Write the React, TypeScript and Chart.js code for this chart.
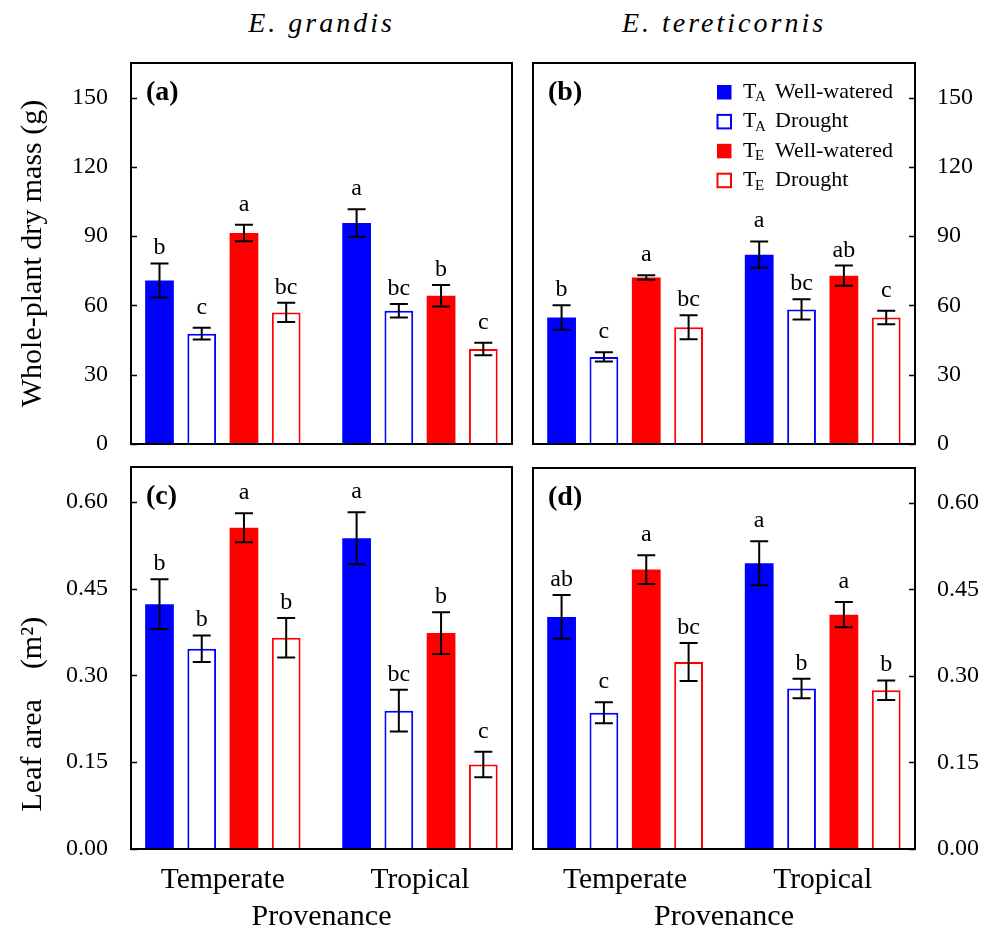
import React, { useEffect, useRef } from 'react';
import { Chart, registerables } from 'chart.js';

Chart.register(...registerables);

const FONT = "'Liberation Serif', 'Times New Roman', Times, serif";

// ---------- data ----------
const CATEGORIES = ['Temperate', 'Tropical'];
const TEMP_SUB = ['A', 'A', 'E', 'E'];
const WATERING = ['Well-watered', 'Drought', 'Well-watered', 'Drought'];
const SERIES_LABELS = TEMP_SUB.map((s, i) => `T${s} ${WATERING[i]}`);
const SERIES_COLORS = ['#0000ff', '#0000ff', '#ff0000', '#ff0000'];
const SERIES_FILLED = [true, false, true, false];

const MASS_TICK_STEP = 30;
const MASS_MAX = 165;
const AREA_TICK_STEP = 0.15;
const AREA_MAX = 0.66;

// rows = series (TA WW, TA D, TE WW, TE D), columns = categories (Temperate, Tropical)
const GRANDIS_MASS = [[70.8, 95.7], [47.8, 57.7], [91.4, 64.2], [57.0, 41.1]];
const GRANDIS_MASS_SE = [[7.4, 6.0], [2.5, 2.9], [3.6, 4.7], [4.2, 2.7]];
const GRANDIS_MASS_LETTERS = [['b', 'a'], ['c', 'bc'], ['a', 'b'], ['bc', 'c']];

const TERETI_MASS = [[54.8, 82.0], [37.7, 58.3], [72.1, 72.9], [50.6, 54.8]];
const TERETI_MASS_SE = [[5.3, 5.7], [2.0, 4.4], [1.0, 4.4], [5.2, 2.9]];
const TERETI_MASS_LETTERS = [['b', 'a'], ['c', 'bc'], ['a', 'ab'], ['bc', 'c']];

const GRANDIS_AREA = [[0.423, 0.537], [0.346, 0.239], [0.555, 0.373], [0.365, 0.146]];
const GRANDIS_AREA_SE = [[0.043, 0.045], [0.023, 0.036], [0.025, 0.036], [0.034, 0.022]];
const GRANDIS_AREA_LETTERS = [['b', 'a'], ['b', 'bc'], ['a', 'b'], ['b', 'c']];

const TERETI_AREA = [[0.402, 0.495], [0.236, 0.278], [0.484, 0.406], [0.324, 0.275]];
const TERETI_AREA_SE = [[0.038, 0.038], [0.018, 0.017], [0.025, 0.022], [0.033, 0.017]];
const TERETI_AREA_LETTERS = [['ab', 'a'], ['c', 'b'], ['a', 'a'], ['bc', 'b']];

const X_MIN = -0.466;
const X_MAX = 1.467;

type Panel = {
  label: string;
  means: number[][];
  errs: number[][];
  letters: string[][];
  yMax: number;
  yStep: number;
  decimals: number;
  side: 'left' | 'right';
  showX: boolean;
  yTitle: string | null;
  yTitleAlign: 'center' | 'start';
  legend: boolean;
  box: { left: number; top: number; width: number; height: number };
  padding: { left: number; top: number; right: number; bottom: number };
  yWidth: number;
  xHeight: number;
};

const PANELS: Panel[] = [
  {
    label: '(a)', means: GRANDIS_MASS, errs: GRANDIS_MASS_SE, letters: GRANDIS_MASS_LETTERS,
    yMax: MASS_MAX, yStep: MASS_TICK_STEP, decimals: 0, side: 'left', showX: false,
    yTitle: 'Whole-plant dry mass (g)', yTitleAlign: 'center', legend: false,
    box: { left: 0, top: 50, width: 522, height: 406 },
    padding: { left: 0, top: 13, right: 10, bottom: 12 }, yWidth: 131, xHeight: 0,
  },
  {
    label: '(b)', means: TERETI_MASS, errs: TERETI_MASS_SE, letters: TERETI_MASS_LETTERS,
    yMax: MASS_MAX, yStep: MASS_TICK_STEP, decimals: 0, side: 'right', showX: false,
    yTitle: null, yTitleAlign: 'center', legend: true,
    box: { left: 522, top: 50, width: 465, height: 406 },
    padding: { left: 11, top: 13, right: 0, bottom: 12 }, yWidth: 72, xHeight: 0,
  },
  {
    label: '(c)', means: GRANDIS_AREA, errs: GRANDIS_AREA_SE, letters: GRANDIS_AREA_LETTERS,
    yMax: AREA_MAX, yStep: AREA_TICK_STEP, decimals: 2, side: 'left', showX: true,
    yTitle: '     Leaf area    (m\u00B2)', yTitleAlign: 'start', legend: false,
    box: { left: 0, top: 456, width: 522, height: 477 },
    padding: { left: 0, top: 11, right: 10, bottom: 0 }, yWidth: 131, xHeight: 84,
  },
  {
    label: '(d)', means: TERETI_AREA, errs: TERETI_AREA_SE, letters: TERETI_AREA_LETTERS,
    yMax: AREA_MAX, yStep: AREA_TICK_STEP, decimals: 2, side: 'right', showX: true,
    yTitle: null, yTitleAlign: 'center', legend: false,
    box: { left: 522, top: 456, width: 465, height: 477 },
    padding: { left: 11, top: 12, right: 0, bottom: 0 }, yWidth: 72, xHeight: 84,
  },
];

const decorPlugin = {
  id: 'decor',
  afterDatasetsDraw(chart: any, _args: any, opts: any) {
    const p: Panel = opts.panel;
    const { ctx } = chart;
    const y = chart.scales.y;
    ctx.save();
    chart.data.datasets.forEach((_ds: any, di: number) => {
      const meta = chart.getDatasetMeta(di);
      meta.data.forEach((bar: any, i: number) => {
        const m = p.means[di][i];
        const e = p.errs[di][i];
        const yt = y.getPixelForValue(m + e);
        const yb = y.getPixelForValue(m - e);
        const x = bar.x;
        ctx.strokeStyle = '#000';
        ctx.lineWidth = 2;
        ctx.beginPath();
        ctx.moveTo(x, yt);
        ctx.lineTo(x, yb);
        ctx.moveTo(x - 9, yt);
        ctx.lineTo(x + 9, yt);
        ctx.moveTo(x - 9, yb);
        ctx.lineTo(x + 9, yb);
        ctx.stroke();
        const t = p.letters[di][i];
        ctx.font = `24px ${FONT}`;
        ctx.fillStyle = '#000';
        ctx.textAlign = 'center';
        ctx.textBaseline = 'alphabetic';
        const asc = ctx.measureText(t).actualBoundingBoxAscent;
        ctx.fillText(t, x, yt - 25 + asc);
      });
    });
    ctx.restore();
  },
  afterDraw(chart: any, _args: any, opts: any) {
    const p: Panel = opts.panel;
    const { ctx, chartArea } = chart;
    const { left, top, right, bottom } = chartArea;
    const y = chart.scales.y;
    ctx.save();
    // frame
    ctx.strokeStyle = '#000';
    ctx.lineWidth = 2;
    ctx.strokeRect(left, top, right - left, bottom - top);
    // inward tick marks
    ctx.lineWidth = 1.5;
    ctx.beginPath();
    y.ticks.forEach((t: any) => {
      const py = Math.round(y.getPixelForValue(t.value)) + 0.5;
      if (p.side === 'left') {
        ctx.moveTo(left, py);
        ctx.lineTo(left + 6, py);
      } else {
        ctx.moveTo(right, py);
        ctx.lineTo(right - 6, py);
      }
    });
    ctx.stroke();
    // panel label
    ctx.fillStyle = '#000';
    ctx.font = `bold 28px ${FONT}`;
    ctx.textAlign = 'left';
    ctx.textBaseline = 'alphabetic';
    ctx.fillText(p.label, left + 15, top + 37);
    // legend
    if (p.legend) {
      const x0 = right - 198;
      const y0 = top + 22;
      chart.data.datasets.forEach((ds: any, i: number) => {
        const sy = y0 + i * 29.4;
        if (SERIES_FILLED[i]) {
          ctx.fillStyle = ds.borderColor;
          ctx.fillRect(x0, sy, 14.5, 14.5);
        } else {
          ctx.strokeStyle = ds.borderColor;
          ctx.lineWidth = 2;
          ctx.strokeRect(x0 + 0.5, sy + 0.5, 13.5, 13.5);
        }
        const base = sy + 12.8;
        ctx.fillStyle = '#000';
        ctx.font = `22px ${FONT}`;
        ctx.fillText('T', x0 + 26, base);
        const tw = ctx.measureText('T').width;
        ctx.font = `15px ${FONT}`;
        ctx.fillText(TEMP_SUB[i], x0 + 26 + tw - 1.5, base + 3.5);
        ctx.font = `22px ${FONT}`;
        ctx.fillText(WATERING[i], x0 + 58, base);
      });
    }
    ctx.restore();
  },
};

function buildConfig(p: Panel): any {
  return {
    type: 'bar',
    data: {
      datasets: p.means.map((row, si) => ({
        label: SERIES_LABELS[si],
        data: row.map((v, ci) => ({ x: ci, y: v })),
        backgroundColor: SERIES_FILLED[si] ? SERIES_COLORS[si] : '#ffffff',
        borderColor: SERIES_COLORS[si],
        borderWidth: SERIES_FILLED[si] ? 0 : 2,
        categoryPercentage: 0.857,
        barPercentage: 0.68,
      })),
    },
    options: {
      animation: false,
      responsive: false,
      maintainAspectRatio: false,
      layout: { padding: p.padding },
      plugins: {
        legend: { display: false },
        tooltip: { enabled: false },
        decor: { panel: p },
      },
      scales: {
        x: {
          type: 'linear',
          min: X_MIN,
          max: X_MAX,
          offset: false,
          display: p.showX,
          grid: { display: false, drawTicks: false },
          border: { display: false },
          afterBuildTicks: (s: any) => {
            s.ticks = CATEGORIES.map((_c, i) => ({ value: i }));
          },
          afterFit: (s: any) => {
            s.height = p.xHeight;
            s.paddingLeft = 0;
            s.paddingRight = 0;
            s.paddingTop = 0;
            s.paddingBottom = 0;
          },
          ticks: {
            callback: (_v: any, i: number) => CATEGORIES[i],
            font: { family: FONT, size: 29.5 },
            color: '#000',
            padding: 14,
            maxRotation: 0,
            autoSkip: false,
          },
          title: {
            display: p.showX,
            text: 'Provenance',
            font: { family: FONT, size: 30, lineHeight: 1.05 },
            color: '#000',
            padding: 0,
          },
        },
        y: {
          position: p.side,
          min: 0,
          max: p.yMax,
          grid: { display: false, drawTicks: false },
          border: { display: false },
          afterFit: (s: any) => {
            s.width = p.yWidth;
            s.paddingTop = 0;
            s.paddingBottom = 0;
            s.paddingLeft = 0;
            s.paddingRight = 0;
          },
          ticks: {
            stepSize: p.yStep,
            includeBounds: false,
            callback: (v: any) => Number(v).toFixed(p.decimals),
            font: { family: FONT, size: 24 },
            color: '#000',
            padding: p.side === 'left' ? 23 : 22,
          },
          title: p.yTitle
            ? {
                display: true,
                text: p.yTitle,
                align: p.yTitleAlign,
                font: { family: FONT, size: 30 },
                color: '#000',
                padding: { top: 15.5, bottom: 0 },
              }
            : { display: false },
        },
      },
    },
    plugins: [decorPlugin],
  };
}

function PanelChart({ p }: { p: Panel }) {
  const ref = useRef<HTMLCanvasElement | null>(null);
  useEffect(() => {
    if (!ref.current) return;
    const chart = new Chart(ref.current, buildConfig(p));
    return () => chart.destroy();
  }, [p]);
  return (
    <canvas
      ref={ref}
      width={p.box.width}
      height={p.box.height}
      style={{
        position: 'absolute',
        left: p.box.left,
        top: p.box.top,
        width: p.box.width,
        height: p.box.height,
      }}
    />
  );
}

const titleStyle = (left: number, width: number): React.CSSProperties => ({
  position: 'absolute',
  left,
  top: 9,
  width,
  textAlign: 'center',
  fontFamily: FONT,
  fontStyle: 'italic',
  fontSize: 28,
  lineHeight: '28px',
  letterSpacing: '3px',
  color: '#000',
});

export default function App() {
  return (
    <div
      style={{
        position: 'absolute',
        left: 0,
        top: 0,
        width: 987,
        height: 933,
        overflow: 'hidden',
        background: '#ffffff',
      }}
    >
      <div style={titleStyle(131, 381)}>E. grandis</div>
      <div style={titleStyle(533, 382)}>E. tereticornis</div>
      {PANELS.map((p) => (
        <PanelChart key={p.label} p={p} />
      ))}
    </div>
  );
}
